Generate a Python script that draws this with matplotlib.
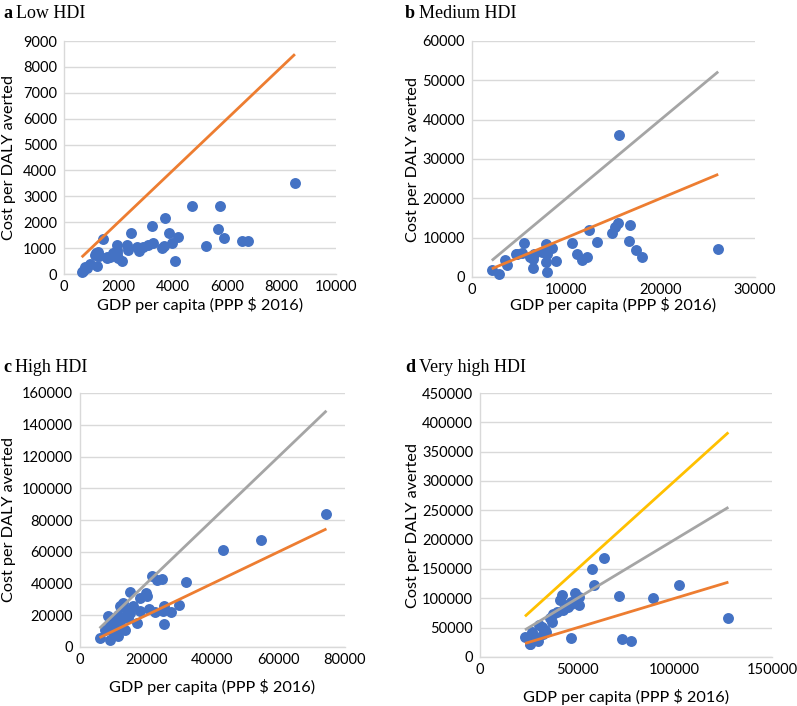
import matplotlib
matplotlib.use("Agg")
import matplotlib.pyplot as plt
import numpy as np

# ---- data ----
low_gdp = [8490, 4720, 5720, 3730, 3220, 5660, 2460, 3850, 5870, 6530, 6780, 4180, 5230, 4090,
           1450, 3960, 3600, 3680, 3260, 3100, 2920, 2770, 2670, 2330, 2340, 1940, 1940, 1810,
           1690, 1570, 2120, 2000, 1260, 1140, 1200, 960, 770, 710, 650, 830, 1190, 1590, 1960, 1300]
low_cost = [3520, 2610, 2610, 2170, 1860, 1740, 1570, 1590, 1380, 1290, 1270, 1410, 1090, 500,
            1360, 1180, 990, 1080, 1210, 1120, 1050, 900, 1050, 1120, 930, 1120, 930, 800,
            670, 640, 510, 600, 860, 730, 320, 370, 280, 130, 90, 220, 820, 600, 800, 700]

med_gdp = [15600, 26100, 15500, 15200, 14800, 16800, 16600, 17400, 18000, 12400, 13200, 10600,
           11100, 11700, 12200, 5500, 7800, 8500, 4700, 5300, 6200, 6600, 6500, 7800, 7900, 8900,
           3500, 3700, 2100, 2900, 7900, 7400, 4800, 6500]
med_cost = [36200, 7200, 13800, 12600, 11300, 13100, 9200, 6800, 5100, 12000, 8900, 8700,
            5900, 4400, 5000, 8700, 8500, 7300, 5800, 6000, 5100, 5900, 2400, 3800, 1300, 4100,
            4400, 3000, 1900, 800, 5900, 6400, 5800, 4700]

high_gdp = [74400, 54500, 43100, 32000, 21600, 23300, 24700, 15100, 19800, 20300, 18100, 12400,
            30000, 27600, 25300, 25100, 22600, 20900, 18100, 17100, 25300, 8500, 5900, 9000,
            11500, 13100, 12100, 15100, 13100, 14100, 10600, 9600, 12100, 13600, 11100, 7500,
            16100, 10000, 9000, 14500, 11500, 12800]
high_cost = [84000, 67200, 60800, 41200, 44700, 42000, 42600, 34800, 33800, 32000, 30700, 25600,
             26700, 22000, 25800, 22500, 21800, 23700, 22500, 15000, 14700, 19300, 5400, 4300,
             7000, 27700, 25600, 21400, 18300, 23500, 17200, 9800, 14000, 10900, 8800, 10900,
             25600, 13000, 15000, 18000, 20000, 12000]

vhigh_gdp = [127600, 102100, 88900, 71300, 63800, 57500, 58800, 72900, 77400, 47000, 48700,
             50600, 50800, 47000, 44700, 42000, 41000, 42700, 39300, 37600, 35900, 36800, 34000,
             31600, 30200, 29900, 27300, 23100, 25600, 25700, 26500, 28200, 33300, 32500, 45300, 47000]
vhigh_cost = [67200, 122500, 100800, 104200, 169200, 149800, 123000, 30200, 26700, 32500, 109100,
              102500, 88300, 91100, 88300, 105000, 96900, 79800, 76900, 73000, 66000, 59800, 42700,
              51300, 54100, 27300, 37100, 34200, 22900, 21600, 42700, 34200, 45600, 40000, 85400, 94000]

# threshold multiples of GDP per capita drawn as lines (multiple, colour)
thresholds_a = [(1, "#ED7D31")]
thresholds_b = [(2, "#A5A5A5"), (1, "#ED7D31")]
thresholds_c = [(2, "#A5A5A5"), (1, "#ED7D31")]
thresholds_d = [(3, "#FFC000"), (2, "#A5A5A5"), (1, "#ED7D31")]

panel_letters = ["a", "b", "c", "d"]
panel_titles = ["Low HDI", "Medium HDI", "High HDI", "Very high HDI"]
xlabel = "GDP per capita (PPP $ 2016)"
ylabel = "Cost per DALY averted"

W, H = 797, 706
fig = plt.figure(figsize=(W / 100, H / 100), dpi=100)

TICKFONT = "Lato"
SERIF = "Liberation Serif"


def add_ax(l, r, t, b):
    return fig.add_axes([l / W, 1 - b / H, (r - l) / W, (b - t) / H])


panels = [
    dict(rect=(64, 336, 41, 274), x=low_gdp, y=low_cost, th=thresholds_a,
         xlim=(0, 10000), xstep=2000, ylim=(0, 9000), ystep=1000,
         title_xy=(3, 14), ylab_x=9, xlab_y=305),
    dict(rect=(472, 755, 41, 277), x=med_gdp, y=med_cost, th=thresholds_b,
         xlim=(0, 30000), xstep=10000, ylim=(0, 60000), ystep=10000,
         title_xy=(405, 14), ylab_x=413, xlab_y=305),
    dict(rect=(80, 345, 393, 647), x=high_gdp, y=high_cost, th=thresholds_c,
         xlim=(0, 80000), xstep=20000, ylim=(0, 160000), ystep=20000,
         title_xy=(3, 367), ylab_x=9, xlab_y=687),
    dict(rect=(480, 772, 393, 657), x=vhigh_gdp, y=vhigh_cost, th=thresholds_d,
         xlim=(0, 150000), xstep=50000, ylim=(0, 450000), ystep=50000,
         title_xy=(405, 367), ylab_x=413, xlab_y=697),
]

for i, p in enumerate(panels):
    l, r, t, b = p["rect"]
    ax = add_ax(l, r, t, b)
    x = np.array(p["x"], dtype=float)
    y = np.array(p["y"], dtype=float)
    ax.scatter(x, y, s=62, color="#4472C4", zorder=3, clip_on=False, linewidths=0)
    xr = np.array([x.min(), x.max()])
    for mult, col in p["th"]:
        ax.plot(xr, mult * xr, color=col, lw=2.0, zorder=4, solid_capstyle="butt")
    ax.set_xlim(*p["xlim"])
    ax.set_ylim(*p["ylim"])
    ax.set_xticks(np.arange(p["xlim"][0], p["xlim"][1] + 1, p["xstep"]))
    ax.set_yticks(np.arange(p["ylim"][0], p["ylim"][1] + 1, p["ystep"]))
    ax.set_xticklabels([f"{int(v)}" for v in ax.get_xticks()], fontfamily=TICKFONT, fontsize=10.5)
    ax.set_yticklabels([f"{int(v)}" for v in ax.get_yticks()], fontfamily=TICKFONT, fontsize=10.5)
    ax.tick_params(length=0, pad=5)
    ax.tick_params(axis="x", pad=4)
    ax.grid(axis="y", color="#D9D9D9", lw=1.0, zorder=0)
    ax.set_axisbelow(True)
    for s in ["top", "right"]:
        ax.spines[s].set_visible(False)
    for s in ["left", "bottom"]:
        ax.spines[s].set_color("#D9D9D9")
        ax.spines[s].set_linewidth(1.0)
    # axis titles
    fig.text((l + r) / 2 / W, 1 - p["xlab_y"] / H, xlabel, ha="center", va="center",
             fontfamily=TICKFONT, fontsize=11.7)
    fig.text(p["ylab_x"] / W, 1 - (t + b) / 2 / H, ylabel, ha="center", va="center",
             rotation=90, fontfamily=TICKFONT, fontsize=11.7)
    tx, ty = p["title_xy"]
    tt = fig.text(tx / W, 1 - ty / H, panel_letters[i], ha="left", va="center",
                  fontfamily=SERIF, fontweight="bold", fontsize=13)
    fig.canvas.draw()
    bb = tt.get_window_extent()
    fig.text((bb.x1 + 4) / W, 1 - ty / H, panel_titles[i], ha="left", va="center",
             fontfamily=SERIF, fontsize=13)

fig.savefig("out.png", dpi=100)
